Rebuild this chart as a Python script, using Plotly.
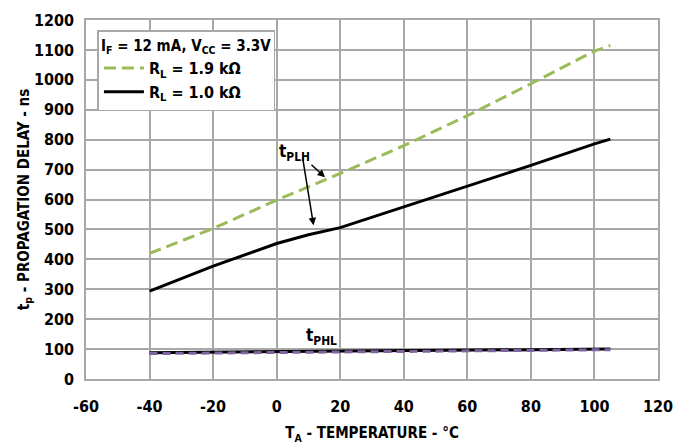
import plotly.graph_objects as go

temp = [-40, -20, 0, 10, 20, 40, 60, 80, 100, 105]
tplh_19k = [420, 503, 598, 642, 687, 780, 880, 987, 1096, 1115]
tplh_10k = [294, 377, 453, 482, 506, 575, 644, 714, 786, 802]
tphl_temp = [-40, 105]
tphl_10k = [88, 100]
tphl_19k = [85, 98]
x_ticks = [-60, -40, -20, 0, 20, 40, 60, 80, 100, 120]
x_tick_labels = ["-60", "-40", "-20", "0", "20", "40", "60", "80", "100", "120"]

FONT = "DejaVu Sans Condensed"
GRID = "#a8a8a8"

def f(size):
    return dict(family=FONT, size=size, color="black", weight="bold")

fig = go.Figure()
fig.add_trace(go.Scatter(x=temp, y=tplh_19k, mode="lines", name="R<sub>L</sub> = 1.9 kΩ",
                         line=dict(color="#9bbb59", width=3, dash="12px,6px")))
fig.add_trace(go.Scatter(x=temp, y=tplh_10k, mode="lines", name="R<sub>L</sub> = 1.0 kΩ",
                         line=dict(color="black", width=3)))
fig.add_trace(go.Scatter(x=tphl_temp, y=tphl_10k, mode="lines", showlegend=False,
                         line=dict(color="black", width=3)))
fig.add_trace(go.Scatter(x=tphl_temp, y=tphl_19k, mode="lines", showlegend=False,
                         line=dict(color="#8064a2", width=3, dash="8px,5px")))

fig.add_annotation(x=5.5, y=757, text="t<sub>PLH</sub>", showarrow=False, font=f(17))
fig.add_annotation(x=15.2, y=674, ax=-15, ay=-14, text="", showarrow=True,
                   arrowhead=2, arrowsize=1, arrowwidth=1.5, arrowcolor="black")
fig.add_annotation(x=11.6, y=514, ax=-11, ay=-68, text="", showarrow=True,
                   arrowhead=2, arrowsize=1, arrowwidth=1.5, arrowcolor="black")
fig.add_annotation(x=14.0, y=143, text="t<sub>PHL</sub>", showarrow=False, font=f(17))

axis_common = dict(showgrid=True, gridcolor=GRID, gridwidth=1.5, zeroline=False,
                   showline=True, linecolor=GRID, linewidth=1.5, mirror=True,
                   automargin=False, ticks="", tickfont=f(16))

fig.update_xaxes(range=[-60, 120], tickvals=x_ticks, ticktext=x_tick_labels,
                 ticklabelstandoff=12, **axis_common,
                 title=dict(text="T<sub>A</sub> - TEMPERATURE - °C", font=f(15), standoff=13))
fig.update_yaxes(range=[0, 1200], dtick=100, ticklabelstandoff=7, **axis_common,
                 title=dict(text="t<sub>p</sub> - PROPAGATION DELAY - ns", font=f(15), standoff=0))

fig.update_layout(
    width=685, height=437,
    margin=dict(l=78, r=35, t=12, b=66),
    plot_bgcolor="white", paper_bgcolor="white",
    font=f(16),
    legend=dict(x=0.02, y=0.972, xanchor="left", yanchor="top",
                bgcolor="white", bordercolor=GRID, borderwidth=1.5,
                font=f(16),
                title=dict(text="I<sub>F</sub> = 12 mA, V<sub>CC</sub> = 3.3V", font=f(15)),
                tracegroupgap=0, itemwidth=40),
)

fig.write_html("out.html")
